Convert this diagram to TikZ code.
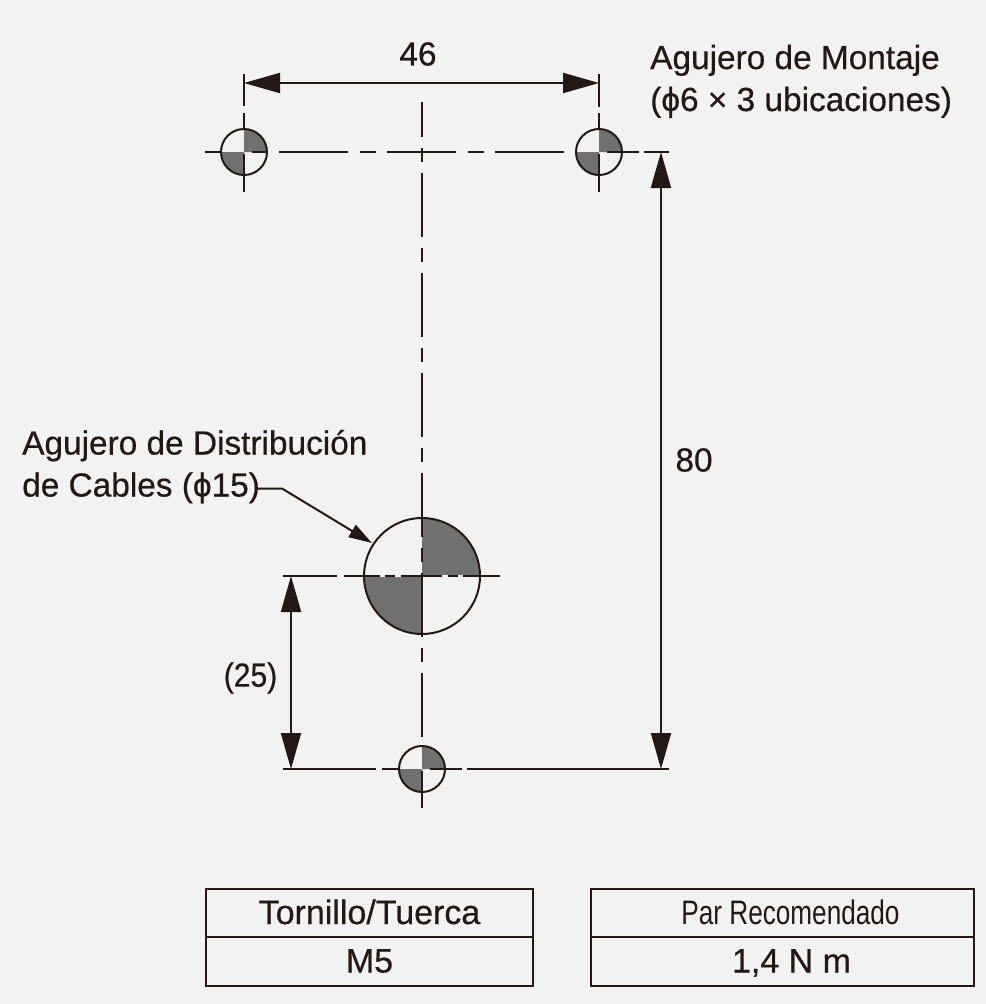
\documentclass[tikz,border=0pt]{standalone}
\usepackage{fontspec}
\setmainfont{Liberation Sans}[FakeBold=0.5]
\newfontfamily\lightfont{Liberation Sans}
\usetikzlibrary{arrows.meta,positioning}
\definecolor{paper}{HTML}{F2F2F2}
\definecolor{ink}{HTML}{231815}
\definecolor{holegrey}{HTML}{717071}
\tikzset{
  thin line/.style={draw=ink, line width=1.7pt},
  gap line/.style={draw=paper, line width=1.7pt},
  dim line/.style={thin line, {Triangle[length=1.08cm,width=0.6cm,fill=ink]}-{Triangle[length=1.08cm,width=0.6cm,fill=ink]}},
  hole/.style={circle, draw=ink, line width=1.7pt, inner sep=0pt, outer sep=0pt},
  label/.style={text=ink, font=\fontsize{28.5}{35.85}\selectfont, inner sep=0pt},
  cell/.style={draw=ink, line width=1.7pt, text=ink, inner sep=0pt, outer sep=0pt, minimum height=1.455cm, text height=0.66cm, text depth=0pt, font=\fontsize{29}{30}\selectfont},
}
\begin{document}
\begin{tikzpicture}[x=0.03cm, y=-0.03cm]
      % Page:
      \fill[paper] (0,0) rectangle (986,1004);
      \useasboundingbox (0,0) rectangle (986,1004);
      % Holes with two shaded quarters:
      \foreach \hname/\xc/\yc/\rad in {holeL/244/152/23, holeR/599/152/23, holeB/422/769/23, holeC/422/576/58}{
        \fill[holegrey] (\xc,\yc) -- ++(\rad,0) arc[start angle=0, end angle=-90, radius=\rad] -- cycle;
        \fill[holegrey] (\xc,\yc) -- ++(-\rad,0) arc[start angle=180, end angle=90, radius=\rad] -- cycle;
        \node[hole, minimum size=\rad*0.06cm](\hname) at (\xc,\yc){};
      }
      % Ends of the lines:
      \coordinate (dimL) at (244,83);
      \coordinate (dimR) at (599,83);
      \coordinate (topL) at (244,74);
      \coordinate (topR) at (599,74);
      \coordinate (dimT) at (661,152);
      \coordinate (dimB) at (661,769);
      \coordinate (dimU) at (291,576);
      \coordinate (dimD) at (291,769);
      % Centre lines:
      \draw[thin line] (205,152) -- (holeL.west);
      \draw[thin line] (252,152) -- (268,152);
      \draw[thin line, dash pattern=on 2.07cm off 0.36cm on 0.48cm off 0.33cm] (279,152) -- (564,152);
      \draw[thin line] (607,152) -- (639,152);
      \draw[thin line] (644,152) -- (669,152);
      \draw[thin line] (topL) -- (244,106);
      \draw[thin line] (244,113) -- (holeL.north);
      \draw[thin line] (244,154) -- (244,192);
      \draw[thin line] (topR) -- (599,107);
      \draw[thin line] (599,113) -- (holeR.north);
      \draw[thin line] (599,154) -- (599,192);
      \draw[thin line, dash pattern=on 1.92cm off 0.33cm on 0.42cm off 0.33cm, dash phase=0.87cm] (422,102) -- (422,737);
      \draw[thin line] (422,771) -- (422,808);
      \draw[thin line] (283,576) -- (337,576);
      \draw[thin line] (344,576) -- (500,576);
      \draw[thin line] (283,769) -- (376,769);
      \draw[thin line] (382,769) -- (holeB.west);
      \draw[thin line] (430,769) -- (462,769);
      \draw[thin line] (467,769) -- (669,769);
      % Gaps on the big hole:
      \draw[gap line] (380,576) -- (385,576);
      \draw[gap line] (395,576) -- (401,576);
      \draw[gap line] (442,576) -- (448,576);
      \draw[gap line] (458,576) -- (463,576);
      % Dimensions:
      \draw[dim line] (dimL) -- (dimR);
      \draw[dim line] (dimT) -- (dimB);
      \draw[dim line] (dimU) -- (dimD);
      % Labels:
      \node[label](lab46) at (418,54){46};
      \node[label](lab80) at (694,460){80};
      \node[label](lab25) at (250.5,678){\scalebox{0.9}[1]{(25)}};
      \node[label, anchor=base west, align=left](labMount) at (650,111){Agujero de Montaje\\(ϕ6 × 3 ubicaciones)};
      \node[label, anchor=base west, align=left](labCable) at (22,496.5){Agujero de Distribución\\de Cables (ϕ15)};
      % Leader:
      \coordinate (leadS) at (256,488.5);
      \coordinate (leadK) at (282,488.5);
      \coordinate (leadE) at (372,543);
      \draw[thin line, -{Triangle[length=0.7cm,width=0.42cm,fill=ink]}] (leadS) -- (leadK) -- (leadE);
      % Tables:
      \node[cell, minimum width=9.81cm](screwT) at (369.5,913){Tornillo/Tuerca};
      \node[cell, minimum width=9.81cm, below=0pt of screwT](screwB){M5};
      \node[cell, minimum width=11.49cm](torqT) at (782.5,913){\hspace*{0.48cm}\lightfont\scalebox{0.77}[1]{Par Recomendado}};
      \node[cell, minimum width=11.49cm, below=0pt of torqT](torqB){\hspace*{0.54cm}1,4 N m};
\end{tikzpicture}
\end{document}
